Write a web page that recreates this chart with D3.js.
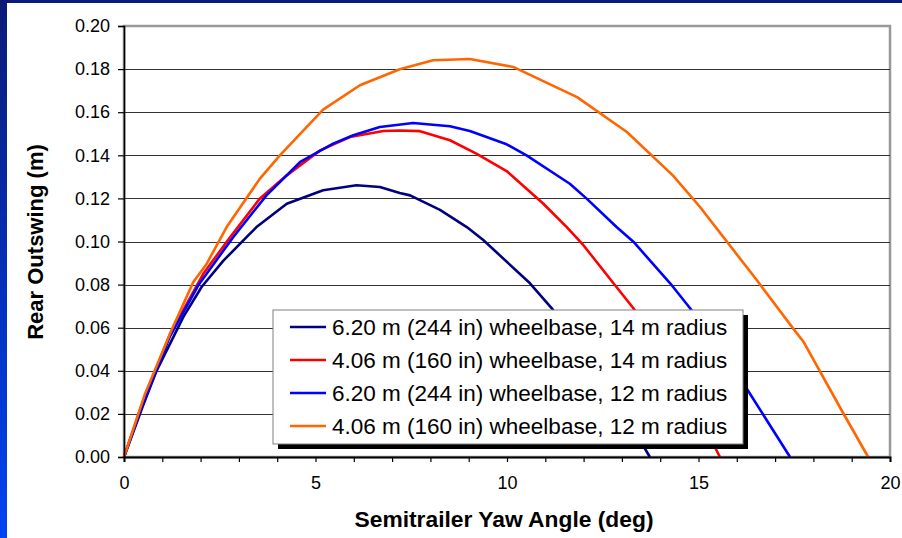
<!DOCTYPE html>
<html>
<head>
<meta charset="utf-8">
<script src="https://cdn.jsdelivr.net/npm/d3@7"></script>
<style>
  html, body { margin: 0; padding: 0; background: #fff; }
  svg { display: block; }
  text { font-family: "Liberation Sans", Arial, sans-serif; fill: #000; }
</style>
</head>
<body>
<svg id="chart" width="902" height="538"></svg>
<script>
// ---- data ----
const seriesNames = [
  "6.20 m (244 in) wheelbase, 14 m radius",
  "4.06 m (160 in) wheelbase, 14 m radius",
  "6.20 m (244 in) wheelbase, 12 m radius",
  "4.06 m (160 in) wheelbase, 12 m radius"
];
const seriesColors = ["#000080", "#ff0000", "#0000ff", "#ff6600"];

const navyX = [0, 0.5, 0.85, 1.55, 2.03, 2.59, 3.2, 3.46, 4.25, 5.2, 6.07, 6.68, 7.2, 7.47, 8.25, 8.95, 9.38, 10.6, 11.17, 12.0, 12.9, 13.73];
const navyY = [0, 0.024, 0.040, 0.065, 0.079, 0.091, 0.102, 0.1067, 0.1175, 0.1238, 0.1261, 0.1253, 0.1225, 0.1214, 0.1147, 0.1067, 0.1007, 0.0806, 0.069, 0.049, 0.025, 0];

const redX = [0, 0.5, 1.2, 2.07, 2.77, 3.55, 4.25, 5.12, 5.9, 6.77, 7.2, 7.73, 8.51, 9.2, 9.99, 10.95, 11.56, 11.99, 12.78, 13.3, 14.0, 14.8, 15.56];
const redY = [0, 0.026, 0.057, 0.085, 0.102, 0.120, 0.1307, 0.1423, 0.1485, 0.1513, 0.1515, 0.1512, 0.147, 0.1408, 0.1327, 0.1175, 0.1067, 0.0984, 0.0806, 0.069, 0.050, 0.026, 0];

const blueX = [0, 0.5, 1.2, 1.94, 2.85, 3.72, 4.6, 5.46, 5.99, 6.68, 7.55, 8.51, 9.03, 9.99, 10.51, 11.64, 12.08, 12.86, 13.3, 14.26, 14.78, 15.5, 16.17, 17.39];
const blueY = [0, 0.025, 0.056, 0.0797, 0.102, 0.1214, 0.1369, 0.1454, 0.1493, 0.1531, 0.155, 0.1535, 0.1513, 0.1451, 0.140, 0.1268, 0.1199, 0.1067, 0.0999, 0.0806, 0.069, 0.051, 0.0342, 0];

const orangeX = [0, 0.55, 1.24, 1.81, 2.16, 2.68, 3.55, 4.07, 4.6, 5.2, 6.16, 7.2, 8.07, 9.03, 10.16, 11.83, 13.13, 14.33, 15.04, 16.52, 17.47, 17.74, 18.78, 19.43];
const orangeY = [0, 0.0294, 0.0588, 0.0812, 0.0897, 0.1067, 0.1292, 0.140, 0.1499, 0.1612, 0.1725, 0.1799, 0.1841, 0.1847, 0.181, 0.167, 0.1508, 0.1307, 0.116, 0.0821, 0.0597, 0.0535, 0.0203, 0];

const xTickLabels = [0, 5, 10, 15, 20];
const xMinorTicks = d3.range(0, 21, 1);
const yTickValues = d3.range(0, 0.2001, 0.02);

const xTitle = "Semitrailer Yaw Angle (deg)";
const yTitle = "Rear Outswing (m)";

const series = [
  { name: seriesNames[0], color: seriesColors[0], xs: navyX, ys: navyY },
  { name: seriesNames[1], color: seriesColors[1], xs: redX, ys: redY },
  { name: seriesNames[2], color: seriesColors[2], xs: blueX, ys: blueY },
  { name: seriesNames[3], color: seriesColors[3], xs: orangeX, ys: orangeY }
];

// ---- layout ----
const W = 902, H = 538;
const plot = { left: 124, top: 26, right: 890, bottom: 457 };

const svg = d3.select("#chart");

// frame background
const defs = svg.append("defs");
const grad = defs.append("linearGradient").attr("id", "leftGrad")
  .attr("x1", 0).attr("y1", 0).attr("x2", 0).attr("y2", 1);
grad.append("stop").attr("offset", "0%").attr("stop-color", "#0b1a78");
grad.append("stop").attr("offset", "100%").attr("stop-color", "#0044f2");

svg.append("rect").attr("x", 0).attr("y", 0).attr("width", W).attr("height", H).attr("fill", "#fff");
svg.append("rect").attr("x", 0).attr("y", 0).attr("width", 7).attr("height", H).attr("fill", "url(#leftGrad)");
svg.append("rect").attr("x", 0).attr("y", 0).attr("width", W).attr("height", 3).attr("fill", "#0b1a78");

const x = d3.scaleLinear().domain([0, 20]).range([plot.left, plot.right]);
const y = d3.scaleLinear().domain([0, 0.2]).range([plot.bottom, plot.top]);

// plot border (gray top/right)
svg.append("rect")
  .attr("x", plot.left).attr("y", plot.top)
  .attr("width", plot.right - plot.left).attr("height", plot.bottom - plot.top)
  .attr("fill", "#fff").attr("stroke", "#999").attr("stroke-width", 2.5);

// gridlines
svg.append("g").selectAll("line").data(yTickValues.filter(v => v > 0.001 && v < 0.199)).join("line")
  .attr("x1", plot.left).attr("x2", plot.right)
  .attr("y1", d => Math.round(y(d)) + 0.5).attr("y2", d => Math.round(y(d)) + 0.5)
  .attr("stroke", "#333").attr("stroke-width", 1.2);

// series lines
const line = d3.line().x(d => x(d[0])).y(d => y(d[1]));
const lineG = svg.append("g");
series.forEach(s => {
  const pts = s.xs.map((v, i) => [v, s.ys[i]]);
  lineG.append("path").datum(pts)
    .attr("d", line)
    .attr("fill", "none")
    .attr("stroke", s.color)
    .attr("stroke-width", 2.6)
    .attr("stroke-linejoin", "round");
});

// axes
const yAxis = d3.axisLeft(y).tickValues(yTickValues).tickFormat(d3.format(".2f")).tickSize(6).tickPadding(8);
const yg = svg.append("g").attr("transform", `translate(${plot.left},0)`).call(yAxis);
yg.select(".domain").attr("stroke", "#000").attr("stroke-width", 1.6);
yg.selectAll(".tick line").attr("stroke", "#000").attr("stroke-width", 1.2);
yg.selectAll(".tick text").attr("font-size", 18).style("font-family", "'Liberation Sans', Arial, sans-serif");

const xMinor = d3.axisBottom(x).tickValues(xMinorTicks).tickFormat("").tickSize(5);
const xgm = svg.append("g").attr("transform", `translate(0,${plot.bottom})`).call(xMinor);
xgm.select(".domain").attr("stroke", "#000").attr("stroke-width", 2);
xgm.selectAll(".tick line").attr("stroke", "#000").attr("stroke-width", 1.2);

const xAxis = d3.axisBottom(x).tickValues(xTickLabels).tickFormat(d3.format("d")).tickSize(0).tickPadding(19);
const xg = svg.append("g").attr("transform", `translate(0,${plot.bottom})`).call(xAxis);
xg.select(".domain").remove();
xg.selectAll(".tick text").attr("font-size", 18).style("font-family", "'Liberation Sans', Arial, sans-serif");

// axis titles
svg.append("text")
  .attr("x", 504).attr("y", 527)
  .attr("text-anchor", "middle")
  .attr("font-size", 22.8).attr("font-weight", "bold")
  .text(xTitle);

svg.append("text")
  .attr("transform", `translate(43,242) rotate(-90)`)
  .attr("text-anchor", "middle")
  .attr("font-size", 22).attr("font-weight", "bold")
  .text(yTitle);

// legend
const lg = { x: 273, y: 310, w: 470, h: 134 };
const legend = svg.append("g");
legend.append("rect").attr("x", lg.x + 5).attr("y", lg.y + 5).attr("width", lg.w).attr("height", lg.h).attr("fill", "#000");
legend.append("rect").attr("x", lg.x).attr("y", lg.y).attr("width", lg.w).attr("height", lg.h)
  .attr("fill", "#fff").attr("stroke", "#808080").attr("stroke-width", 1);

const rowY = d3.scalePoint().domain(d3.range(series.length)).range([327, 426]);
series.forEach((s, i) => {
  const ry = rowY(i);
  legend.append("line").attr("x1", 290).attr("x2", 326).attr("y1", ry).attr("y2", ry)
    .attr("stroke", s.color).attr("stroke-width", 2.6);
  legend.append("text").attr("x", 332).attr("y", ry).attr("dy", "0.36em")
    .attr("font-size", 22.5).text(s.name);
});
</script>
</body>
</html>
